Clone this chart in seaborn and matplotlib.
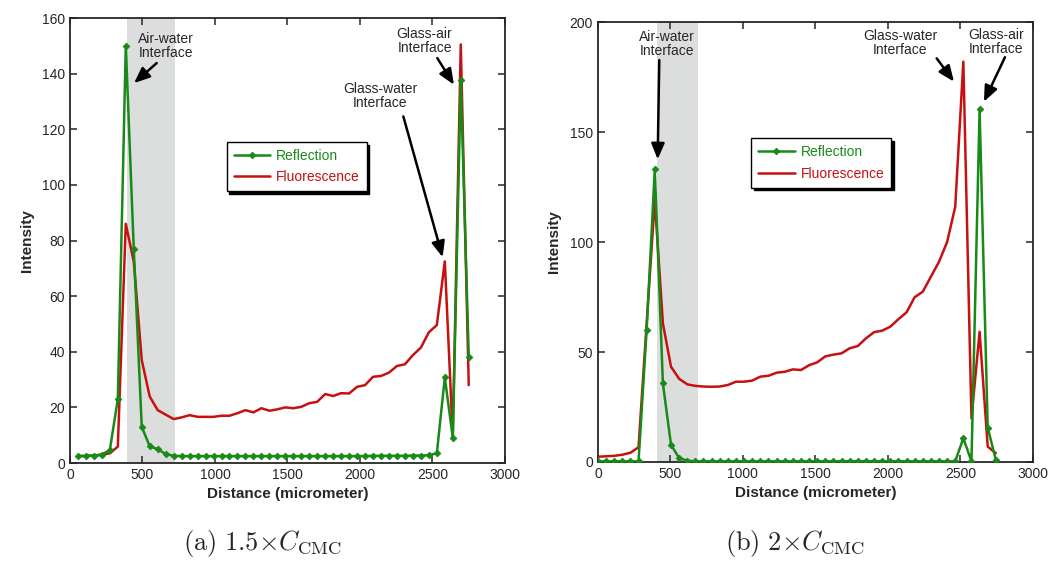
import numpy as np
import pandas as pd
import matplotlib
matplotlib.use("Agg")
import matplotlib.pyplot as plt
import seaborn as sns

sns.set_style("ticks")
plt.rcParams['font.family'] = ['Liberation Sans', 'DejaVu Sans']
plt.rcParams['mathtext.fontset'] = 'cm'

# ---- data ----
# (a) 1.5 x CMC : distance in micrometer
dist_a = [55 * i for i in range(1, 51)]
refl_a = [2.5, 2.6, 2.7, 3.0, 4.7, 23, 150, 77, 13, 6,
          5, 3.2, 2.6, 2.5, 2.5, 2.5, 2.5, 2.5, 2.5, 2.5,
          2.5, 2.5, 2.5, 2.5, 2.5, 2.5, 2.5, 2.5, 2.5, 2.5,
          2.5, 2.5, 2.5, 2.5, 2.5, 2.5, 2.5, 2.6, 2.6, 2.6,
          2.6, 2.6, 2.7, 2.7, 2.8, 3.5, 30.8, 9.1, 137.8, 38.2]
fluo_a = [2.5, 2.5, 2.7, 3.0, 3.5, 5.9, 86, 72.4, 37, 23.9,
          19, 17.4, 15.8, 16.4, 17.2, 16.6, 16.6, 16.6, 17, 17,
          17.9, 19, 18.2, 19.7, 18.8, 19.3, 20, 19.7, 20.2, 21.5,
          22, 24.8, 24.1, 25.1, 25, 27.4, 28, 31, 31.3, 32.5,
          34.9, 35.5, 38.8, 41.5, 47, 49.6, 72.5, 9.5, 150.5, 28]

# (b) 2 x CMC
dist_b = [56 * i for i in range(0, 50)]
refl_b = [0.3, 0.3, 0.3, 0.3, 0.3, 0.3, 60, 133, 35.7, 7.8,
          1.8, 0.6, 0.3, 0.3, 0.3, 0.3, 0.3, 0.3, 0.3, 0.3,
          0.3, 0.3, 0.3, 0.3, 0.3, 0.3, 0.3, 0.3, 0.3, 0.3,
          0.3, 0.3, 0.3, 0.3, 0.3, 0.3, 0.3, 0.3, 0.3, 0.3,
          0.3, 0.3, 0.3, 0.3, 0.3, 10.8, 0.3, 160.3, 15.6, 1.0]
fluo_b = [2.4, 2.6, 2.8, 3.3, 4.2, 6.7, 63, 119, 63, 43.3,
          37.8, 35.3, 34.6, 34.3, 34.2, 34.3, 35, 36.5, 36.5, 37,
          38.8, 39.2, 40.6, 41, 42.1, 41.8, 44, 45.3, 48, 48.8,
          49.4, 51.7, 52.7, 56.2, 59, 59.7, 61.5, 64.9, 68, 74.9,
          77.4, 84.2, 91, 100, 116, 182, 19.8, 59.2, 7, 4]

shade_a = [390, 725]
shade_b = [410, 690]

GREEN = '#178a17'
RED = '#c81010'
SHADE = '#dcdedd'

fig = plt.figure(figsize=(10.49, 5.63), dpi=100)
ax1 = fig.add_axes([0.0667, 0.1776, 0.4147, 0.7904])
ax2 = fig.add_axes([0.5700, 0.1794, 0.4147, 0.7815])


def draw(ax, dist, refl, fluo, shade, ymax, ystep, leg_anchor):
    ax.axvspan(shade[0], shade[1], color=SHADE, zorder=0, lw=0)
    df = pd.DataFrame({'Distance': dist, 'Reflection': refl, 'Fluorescence': fluo})
    sns.lineplot(data=df, x='Distance', y='Fluorescence', ax=ax, color=RED,
                 linewidth=1.8, label='Fluorescence', zorder=3)
    sns.lineplot(data=df, x='Distance', y='Reflection', ax=ax, color=GREEN,
                 linewidth=1.8, marker='D', markersize=3.4,
                 markeredgecolor=GREEN, markeredgewidth=0.6,
                 label='Reflection', zorder=4)
    ax.set_xlim(0, 3000)
    ax.set_ylim(0, ymax)
    ax.set_xticks(np.arange(0, 3001, 500))
    ax.set_yticks(np.arange(0, ymax + 1, ystep))
    ax.tick_params(direction='in', top=True, right=True, length=5, width=1.1,
                   labelsize=10)
    for s in ax.spines.values():
        s.set_linewidth(1.3)
    ax.set_xlabel('Distance (micrometer)', fontsize=11, fontweight='bold', labelpad=4)
    ax.set_ylabel('Intensity', fontsize=11, fontweight='bold', labelpad=6)
    h, l = ax.get_legend_handles_labels()
    leg = ax.legend(h[::-1], l[::-1], loc='upper left', bbox_to_anchor=leg_anchor,
                    borderaxespad=0, fancybox=False, frameon=True, fontsize=10,
                    handlelength=2.6, handletextpad=0.45, labelcolor='linecolor',
                    borderpad=0.5, labelspacing=0.55,
                    shadow={'color': 'black', 'alpha': 1})
    leg.get_frame().set_edgecolor('black')
    leg.get_frame().set_linewidth(1.0)


def arrow(ax, tail, head):
    ax.annotate('', xy=head, xytext=tail,
                arrowprops=dict(arrowstyle='-|>,head_length=0.95,head_width=0.4',
                                color='black', lw=1.8, shrinkA=0, shrinkB=0),
                zorder=6)


def note(ax, x, y, txt):
    ax.text(x, y, txt, ha='center', va='center', fontsize=10, linespacing=1.0,
            zorder=6)


draw(ax1, dist_a, refl_a, fluo_a, shade_a, 160, 20, (0.36, 0.722))
draw(ax2, dist_b, refl_b, fluo_b, shade_b, 200, 50, (0.353, 0.736))

note(ax1, 660, 150, 'Air-water\nInterface')
arrow(ax1, (598, 143.8), (442, 136.6))
note(ax1, 2445, 151.8, 'Glass-air\nInterface')
arrow(ax1, (2533, 145.6), (2648, 136))
note(ax1, 2138, 131.8, 'Glass-water\nInterface')
arrow(ax1, (2299, 124.6), (2570, 74))

note(ax2, 474, 190, 'Air-water\nInterface')
arrow(ax2, (423, 182.7), (412, 137.6))
note(ax2, 2083, 190.5, 'Glass-water\nInterface')
arrow(ax2, (2336, 183.5), (2455, 172.9))
note(ax2, 2743, 191, 'Glass-air\nInterface')
arrow(ax2, (2807, 184), (2662, 163.8))

fig.text(0.25, 0.034, r'$\mathrm{(a)\ 1.5}{\times}C_{\mathrm{CMC}}$',
         ha='center', va='center', fontsize=19)
fig.text(0.758, 0.034, r'$\mathrm{(b)\ 2}{\times}C_{\mathrm{CMC}}$',
         ha='center', va='center', fontsize=19)

fig.savefig('out.png', dpi=100)
